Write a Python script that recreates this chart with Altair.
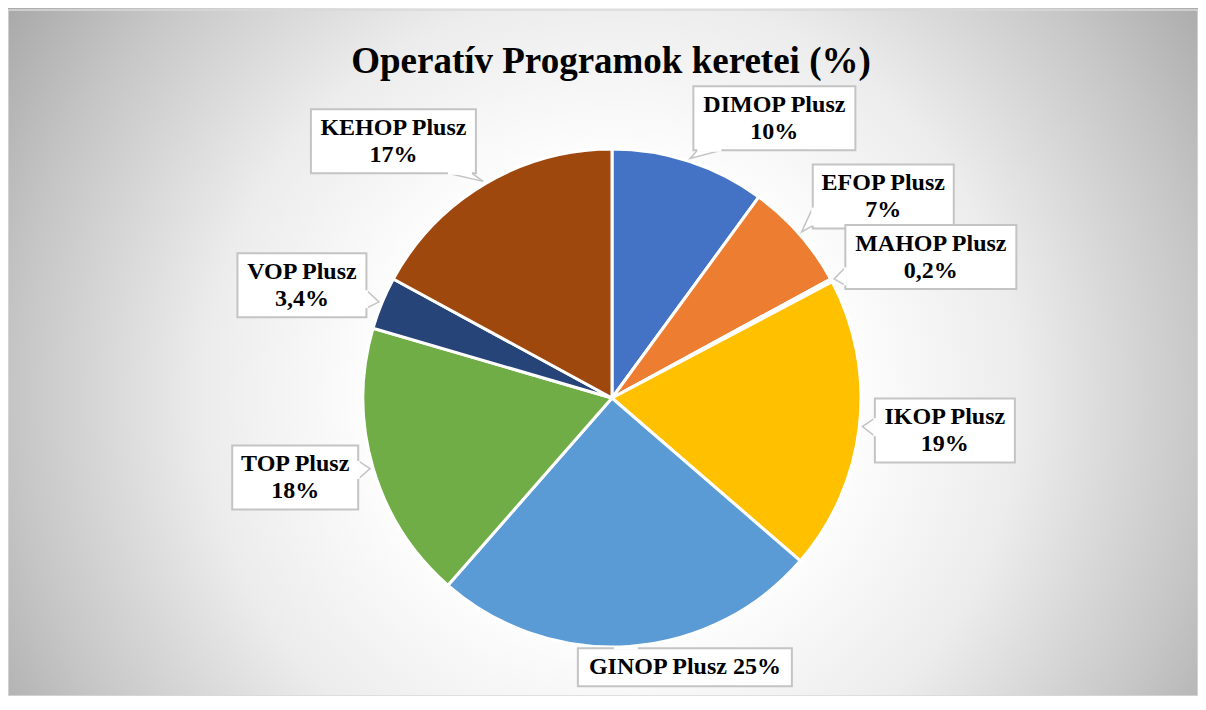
import math
import altair as alt
import pandas as pd

# ---------------- data ----------------
categories = ["DIMOP Plusz", "EFOP Plusz", "MAHOP Plusz", "IKOP Plusz",
              "GINOP Plusz", "TOP Plusz", "VOP Plusz", "KEHOP Plusz"]
values = [10, 7, 0.2, 19, 25, 18, 3.4, 17]
value_labels = ["10%", "7%", "0,2%", "19%", "25%", "18%", "3,4%", "17%"]
title_text = "Operatív Programok keretei (%)"

# ---------------- style / layout ----------------
colors = ["#4472C4", "#ED7D31", "#A5A5A5", "#FFC000",
          "#5B9BD5", "#70AD47", "#264478", "#9E480E"]
W, H = 1190, 686
CX, CY, R = 604, 388, 249          # pie centre / radius (px in plot area)
R_TIP = 252                         # where callout pointers touch
R_LABEL = 330                       # base distance of label boxes
nudges = [(60, 34), (23, 16), (28, 15), (5, -5), (50, -60), (0, -13), (-5, 13), (-50, 27)]
box_w = [162, 141, 171, 140, 214, 126, 129, 165]
box_h = [64, 64, 64, 64, 38, 64, 64, 64]
separators = ["\n", "\n", "\n", "\n", " ", "\n", "\n", "\n"]
FONT = "Liberation Serif"
BOX_STROKE = "#c4c4c4"
LINE_H = 27

# ---------------- derived tables ----------------
pie_df = pd.DataFrame({"cat": categories, "value": values, "idx": range(len(values))})

total = sum(values)
box_rows, ptr_rows, gap_rows = [], [], []
cum = 0.0
for i, (c, v, lab) in enumerate(zip(categories, values, value_labels)):
    mid = (cum + v / 2) / total * 2 * math.pi
    cum += v
    s, co = math.sin(mid), math.cos(mid)
    tx, ty = CX + R_TIP * s, CY - R_TIP * co
    bx = CX + R_LABEL * s + nudges[i][0]
    by = CY - R_LABEL * co + nudges[i][1]
    hw, hh = box_w[i] / 2, box_h[i] / 2
    n_lines = 2 if separators[i] == "\n" else 1
    box_rows.append({"cat": c, "txt": c + separators[i] + lab, "bx": bx,
                     "ty": by - (n_lines - 1) * LINE_H / 2,
                     "x1": bx - hw, "x2": bx + hw, "y1": by - hh, "y2": by + hh})
    dx, dy = tx - bx, ty - by
    t_x = hw / abs(dx) if dx else float("inf")
    t_y = hh / abs(dy) if dy else float("inf")
    if t_x < t_y:
        px = bx + math.copysign(hw, dx)
        py = min(max(by + dy * t_x, by - hh + 12), by + hh - 12)
        b1, b2 = (px, py - 9), (px, py + 9)
    else:
        py = by + math.copysign(hh, dy)
        px = min(max(bx + dx * t_y, bx - hw + 16), bx + hw - 16)
        b1, b2 = (px - 12, py), (px + 12, py)
    for k, (qx, qy) in enumerate([b1, (tx, ty), b2]):
        ptr_rows.append({"cat": c, "k": k, "px": qx, "py": qy})
    gap_rows.append({"cat": c, "gx1": b1[0], "gy1": b1[1], "gx2": b2[0], "gy2": b2[1]})

box_df = pd.DataFrame(box_rows)
ptr_df = pd.DataFrame(ptr_rows)
gap_df = pd.DataFrame(gap_rows)
one = pd.DataFrame({"t": [title_text]})

# ---------------- layers ----------------
SIDE = 1240
bg_gradient = {
    "gradient": "radial", "x1": 0.5, "y1": 0.5, "x2": 0.5, "y2": 0.5, "r1": 0, "r2": 0.6,
    "stops": [
        {"offset": 0.0, "color": "#ffffff"},
        {"offset": 0.3, "color": "#ffffff"},
        {"offset": 0.55, "color": "#ececec"},
        {"offset": 0.8, "color": "#c6c6c6"},
        {"offset": 0.96, "color": "#aaaaaa"},
        {"offset": 1.0, "color": "#a6a6a6"},
    ],
}
background = alt.Chart(one).mark_rect(fill=bg_gradient, strokeWidth=0).encode(
    x=alt.value(CX - SIDE / 2), x2=alt.value(CX + SIDE / 2),
    y=alt.value(CY - SIDE / 2), y2=alt.value(CY + SIDE / 2),
)
border = alt.Chart(one).mark_rect(fill="transparent", stroke="#d9d9d9", strokeWidth=1.5).encode(
    x=alt.value(0), x2=alt.value(W), y=alt.value(0), y2=alt.value(H)
)

pie = alt.Chart(pie_df).mark_arc(radius=R, stroke="white", strokeWidth=3).encode(
    theta=alt.Theta("value:Q", stack=True),
    color=alt.Color("cat:N", scale=alt.Scale(domain=categories, range=colors), legend=None),
    order=alt.Order("idx:Q"),
    x=alt.value(CX), y=alt.value(CY),
)

pointers = alt.Chart(ptr_df).mark_line(fill="white", stroke=BOX_STROKE, strokeWidth=1.5).encode(
    x=alt.X("px:Q", scale=None), y=alt.Y("py:Q", scale=None),
    detail="cat:N", order=alt.Order("k:Q"),
)

boxes = alt.Chart(box_df).mark_rect(fill="white", stroke=BOX_STROKE, strokeWidth=2).encode(
    x=alt.X("x1:Q", scale=None), x2="x2:Q",
    y=alt.Y("y1:Q", scale=None), y2="y2:Q",
)

gaps = alt.Chart(gap_df).mark_rule(color="white", strokeWidth=3).encode(
    x=alt.X("gx1:Q", scale=None), x2="gx2:Q",
    y=alt.Y("gy1:Q", scale=None), y2="gy2:Q",
)

labels = alt.Chart(box_df).mark_text(
    font=FONT, fontWeight="bold", fontSize=24, lineBreak="\n", lineHeight=LINE_H,
    align="center", baseline="middle", color="black",
).encode(
    x=alt.X("bx:Q", scale=None), y=alt.Y("ty:Q", scale=None), text="txt:N"
)

title = alt.Chart(one).mark_text(
    font=FONT, fontWeight="bold", fontSize=37, align="center", baseline="alphabetic", color="black"
).encode(x=alt.value(603), y=alt.value(63), text="t:N")

chart = alt.layer(background, border, pie, pointers, boxes, gaps, labels, title).properties(
    width=W, height=H,
    autosize=alt.AutoSizeParams(type="none"),
    padding={"left": 0, "top": 2, "right": 0, "bottom": 0},
).configure_view(stroke=None)

chart.save("out.html", embed_options={"renderer": "svg", "actions": False})
